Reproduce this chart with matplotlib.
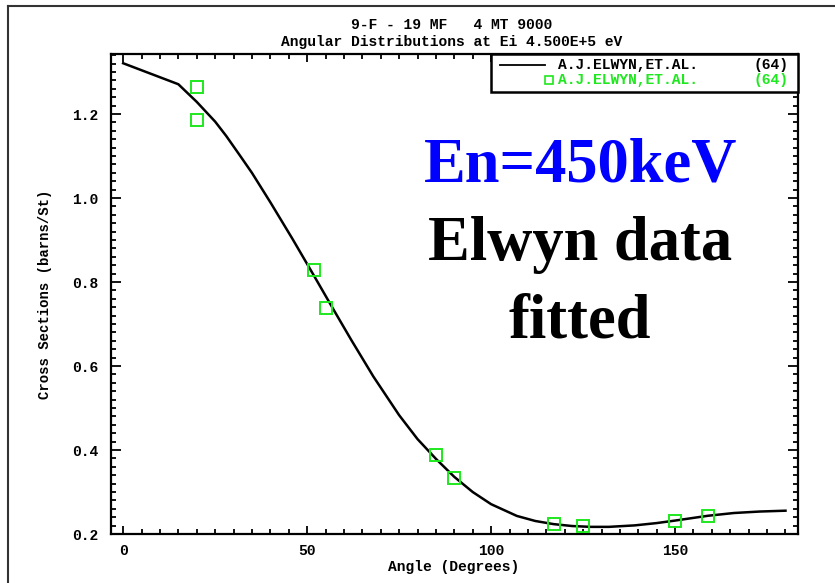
import matplotlib
matplotlib.use("Agg")
import matplotlib.pyplot as plt
from matplotlib.ticker import MultipleLocator
from matplotlib.patches import Rectangle
from matplotlib.lines import Line2D

# ---- data ----
curve_angle = [0, 15, 20, 25, 28, 32, 35, 40, 46, 52, 57, 62, 68, 75, 80, 85,
               90, 95, 100, 107, 112, 117, 122, 127, 132, 139, 145, 150, 159,
               166, 173, 180]
curve_value = [1.321, 1.271, 1.229, 1.182, 1.148, 1.098, 1.060, 0.990, 0.903,
               0.813, 0.737, 0.662, 0.575, 0.483, 0.426, 0.379, 0.336, 0.300,
               0.271, 0.243, 0.231, 0.2235, 0.219, 0.217, 0.217, 0.2205, 0.226,
               0.232, 0.2435, 0.250, 0.2535, 0.2555]

data_angle = [20, 20, 52, 55, 85, 90, 117, 125, 150, 159]
data_value = [1.264, 1.186, 0.829, 0.738, 0.388, 0.333, 0.225, 0.219, 0.231, 0.243]

title_lines = ["9-F - 19 MF   4 MT 9000",
               "Angular Distributions at Ei 4.500E+5 eV"]
legend_label = "A.J.ELWYN,ET.AL."
legend_count = "(64)"
xlabel = "Angle (Degrees)"
ylabel = "Cross Sections (barns/St)"

W, H = 835, 583
GREEN = "#1ee81e"
MONO = "Liberation Mono"
SERIF = "Liberation Serif"

fig = plt.figure(figsize=(W / 100, H / 100), dpi=100)
fig.patch.set_facecolor("white")

def fx(px):
    return px / W

def fy(py):
    return 1 - py / H

ax_l, ax_r, ax_t, ax_b = 111, 798, 54, 534
ax = fig.add_axes([fx(ax_l), fy(ax_b), (ax_r - ax_l) / W, (ax_b - ax_t) / H])

ax.plot(curve_angle, curve_value, color="black", lw=1.8, zorder=3)
ax.plot(data_angle, data_value, linestyle="none", marker="s", markersize=8,
        markerfacecolor="none", markeredgecolor=GREEN, markeredgewidth=1.4, zorder=4)

ax.set_xlim(-3.3, 183.4)
ax.set_ylim(0.2, 1.343)
ax.xaxis.set_major_locator(MultipleLocator(50))
ax.xaxis.set_minor_locator(MultipleLocator(5))
ax.yaxis.set_major_locator(MultipleLocator(0.2))
ax.yaxis.set_minor_locator(MultipleLocator(0.02))
ax.set_xticks([0, 50, 100, 150])
ax.set_xticklabels(["0", "50", "100", "150"])
ax.set_yticks([0.2, 0.4, 0.6, 0.8, 1.0, 1.2])
ax.set_yticklabels(["0.2", "0.4", "0.6", "0.8", "1.0", "1.2"])

ax.tick_params(which="both", direction="in", top=True, right=True, width=1.3,
               colors="black")
ax.tick_params(axis="x", which="major", length=6, pad=7)
ax.tick_params(axis="x", which="minor", length=3.5)
ax.tick_params(axis="y", which="major", length=7, pad=9)
ax.tick_params(axis="y", which="minor", length=3.5)
for lab in ax.get_xticklabels() + ax.get_yticklabels():
    lab.set_fontfamily(MONO)
    lab.set_fontweight("bold")
    lab.set_fontsize(10.5)
for sp in ax.spines.values():
    sp.set_linewidth(1.6)

# legend box drawn by hand
aw, ah = ax_r - ax_l, ax_b - ax_t
def axx(px):
    return (px - ax_l) / aw
def axy(py):
    return (ax_b - py) / ah

box = Rectangle((axx(491), axy(92)), 1 - axx(491), 1 - axy(92),
                transform=ax.transAxes, facecolor="white", edgecolor="black",
                lw=1.8, zorder=6, clip_on=False)
ax.add_patch(box)
ax.add_line(Line2D([axx(500), axx(545)], [axy(65), axy(65)], color="black",
                   lw=1.3, transform=ax.transAxes, zorder=7, clip_on=False))
ax.plot([axx(549)], [axy(80)], marker="s", markersize=6, markerfacecolor="none",
        markeredgecolor=GREEN, markeredgewidth=1.2, transform=ax.transAxes,
        zorder=7, clip_on=False)
for yy, col in [(65, "black"), (80, GREEN)]:
    ax.text(axx(558), axy(yy), legend_label, transform=ax.transAxes, color=col,
            fontfamily=MONO, fontweight="bold", fontsize=10.5, ha="left",
            va="center", zorder=8)
    ax.text(axx(788), axy(yy), legend_count, transform=ax.transAxes, color=col,
            fontfamily=MONO, fontweight="bold", fontsize=10.5, ha="right",
            va="center", zorder=8)

# titles and axis labels
fig.text(fx(452), fy(29), title_lines[0], fontfamily=MONO, fontweight="bold",
         fontsize=10.5, ha="center", va="baseline")
fig.text(fx(452), fy(46), title_lines[1], fontfamily=MONO, fontweight="bold",
         fontsize=10.5, ha="center", va="baseline")
fig.text(fx(454), fy(567), xlabel, fontfamily=MONO, fontweight="bold",
         fontsize=10.5, ha="center", va="center")
fig.text(fx(45), fy(294), ylabel, fontfamily=MONO, fontweight="bold",
         fontsize=10, ha="center", va="center", rotation=90)

# big annotation text
fig.text(fx(581), fy(182), "En=450keV", fontfamily=SERIF, fontweight="bold",
         fontsize=45, color="#0000ff", ha="center", va="baseline")
fig.text(fx(580), fy(260), "Elwyn data", fontfamily=SERIF, fontweight="bold",
         fontsize=45, color="black", ha="center", va="baseline")
fig.text(fx(580), fy(337), "fitted", fontfamily=SERIF, fontweight="bold",
         fontsize=45, color="black", ha="center", va="baseline")

# outer frame (top and left edges visible)
fig.add_artist(Line2D([fx(8), fx(835)], [fy(6), fy(6)], color="#333333", lw=1.5,
                      transform=fig.transFigure))
fig.add_artist(Line2D([fx(8), fx(8)], [fy(6), fy(583)], color="#333333", lw=1.5,
                      transform=fig.transFigure))

fig.savefig("out.png", dpi=100)
